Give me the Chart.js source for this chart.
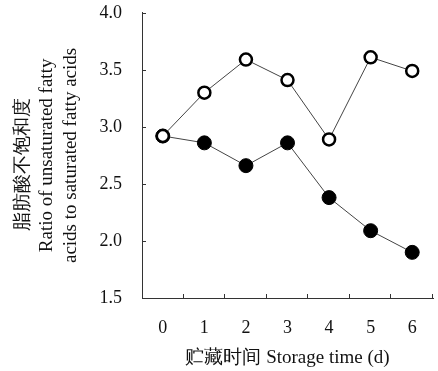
<!DOCTYPE html>
<html>
<head>
<meta charset="utf-8">
<script src="https://cdn.jsdelivr.net/npm/chart.js@4/dist/chart.umd.min.js"></script>
<style>
  html, body { margin: 0; padding: 0; background: #fff; }
  #wrap { width: 438px; height: 371px; }
</style>
</head>
<body>
<div id="wrap"><canvas id="grafico"></canvas></div>
<script>
const dias = ["0", "1", "2", "3", "4", "5", "6"];
const abiertos = [2.92, 3.30, 3.59, 3.41, 2.89, 3.61, 3.49];
const rellenos = [2.92, 2.86, 2.66, 2.86, 2.38, 2.09, 1.90];
const yTicks = [1.5, 2.0, 2.5, 3.0, 3.5, 4.0];

const serif = "'Liberation Serif', 'Times New Roman', serif";

// ticks hacia dentro, como en la figura original
const ticksDentro = {
  id: "ticksDentro",
  afterDraw(chart) {
    const ctx = chart.ctx;
    const x = chart.scales.x, y = chart.scales.y;
    const area = chart.chartArea;
    ctx.save();
    ctx.strokeStyle = "#333";
    ctx.lineWidth = 1;
    ctx.beginPath();
    yTicks.forEach(v => {
      const py = Math.round(y.getPixelForValue(v)) + 0.5;
      ctx.moveTo(area.left, py);
      ctx.lineTo(area.left + 4, py);
    });
    for (let i = 1; i <= dias.length; i++) {
      let px;
      if (i < dias.length) px = (x.getPixelForValue(i - 1) + x.getPixelForValue(i)) / 2;
      else px = area.right;
      px = Math.round(px) - 0.5;
      ctx.moveTo(px, area.bottom);
      ctx.lineTo(px, area.bottom - 4);
    }
    ctx.stroke();
    ctx.restore();
  }
};

new Chart(document.getElementById("grafico").getContext("2d"), {
  type: "line",
  data: {
    labels: dias,
    datasets: [
      {
        label: "open",
        data: abiertos,
        borderColor: "#444",
        borderWidth: 1,
        pointRadius: 6,
        pointBorderWidth: 2.5,
        pointBorderColor: "#000",
        pointBackgroundColor: "#fff",
        tension: 0
      },
      {
        label: "filled",
        data: rellenos,
        borderColor: "#444",
        borderWidth: 1,
        pointRadius: 7,
        pointBorderWidth: 1,
        pointBorderColor: "#000",
        pointBackgroundColor: "#000",
        tension: 0
      }
    ]
  },
  options: {
    responsive: true,
    maintainAspectRatio: false,
    animation: false,
    layout: { autoPadding: false, padding: { top: 5, right: 5, left: 0, bottom: 0 } },
    plugins: {
      legend: { display: false },
      tooltip: { enabled: false }
    },
    scales: {
      x: {
        type: "category",
        offset: true,
        // tickLength solo reserva el hueco, las marcas las pinta el plugin
        grid: { display: false, drawTicks: true, tickLength: 17 },
        border: { display: true, color: "#333", width: 1 },
        ticks: { color: "#111", font: { family: serif, size: 18 }, padding: 2 },
        title: {
          display: true,
          text: "贮藏时间 Storage time (d)",
          color: "#111",
          font: { family: serif, size: 19 },
          padding: { top: 4, bottom: 2 }
        },
        afterFit(scale) { scale.height = 73; }
      },
      y: {
        min: 1.5,
        max: 4.0,
        afterBuildTicks(scale) { scale.ticks = yTicks.map(v => ({ value: v })); },
        grid: { display: false, drawTicks: true, tickLength: 18 },
        border: { display: true, color: "#333", width: 1 },
        ticks: {
          color: "#111",
          font: { family: serif, size: 18 },
          padding: 2,
          callback: v => v.toFixed(1)
        },
        title: {
          display: true,
          text: ["脂肪酸不饱和度\u3000", "Ratio of unsaturated fatty", "acids to saturated fatty acids"],
          color: "#111",
          font: { family: serif, size: 19, lineHeight: 1.27 },
          padding: { top: 11, bottom: 10 }
        },
        afterFit(scale) { scale.width = 142; }
      }
    }
  },
  plugins: [ticksDentro]
});
</script>
</body>
</html>
